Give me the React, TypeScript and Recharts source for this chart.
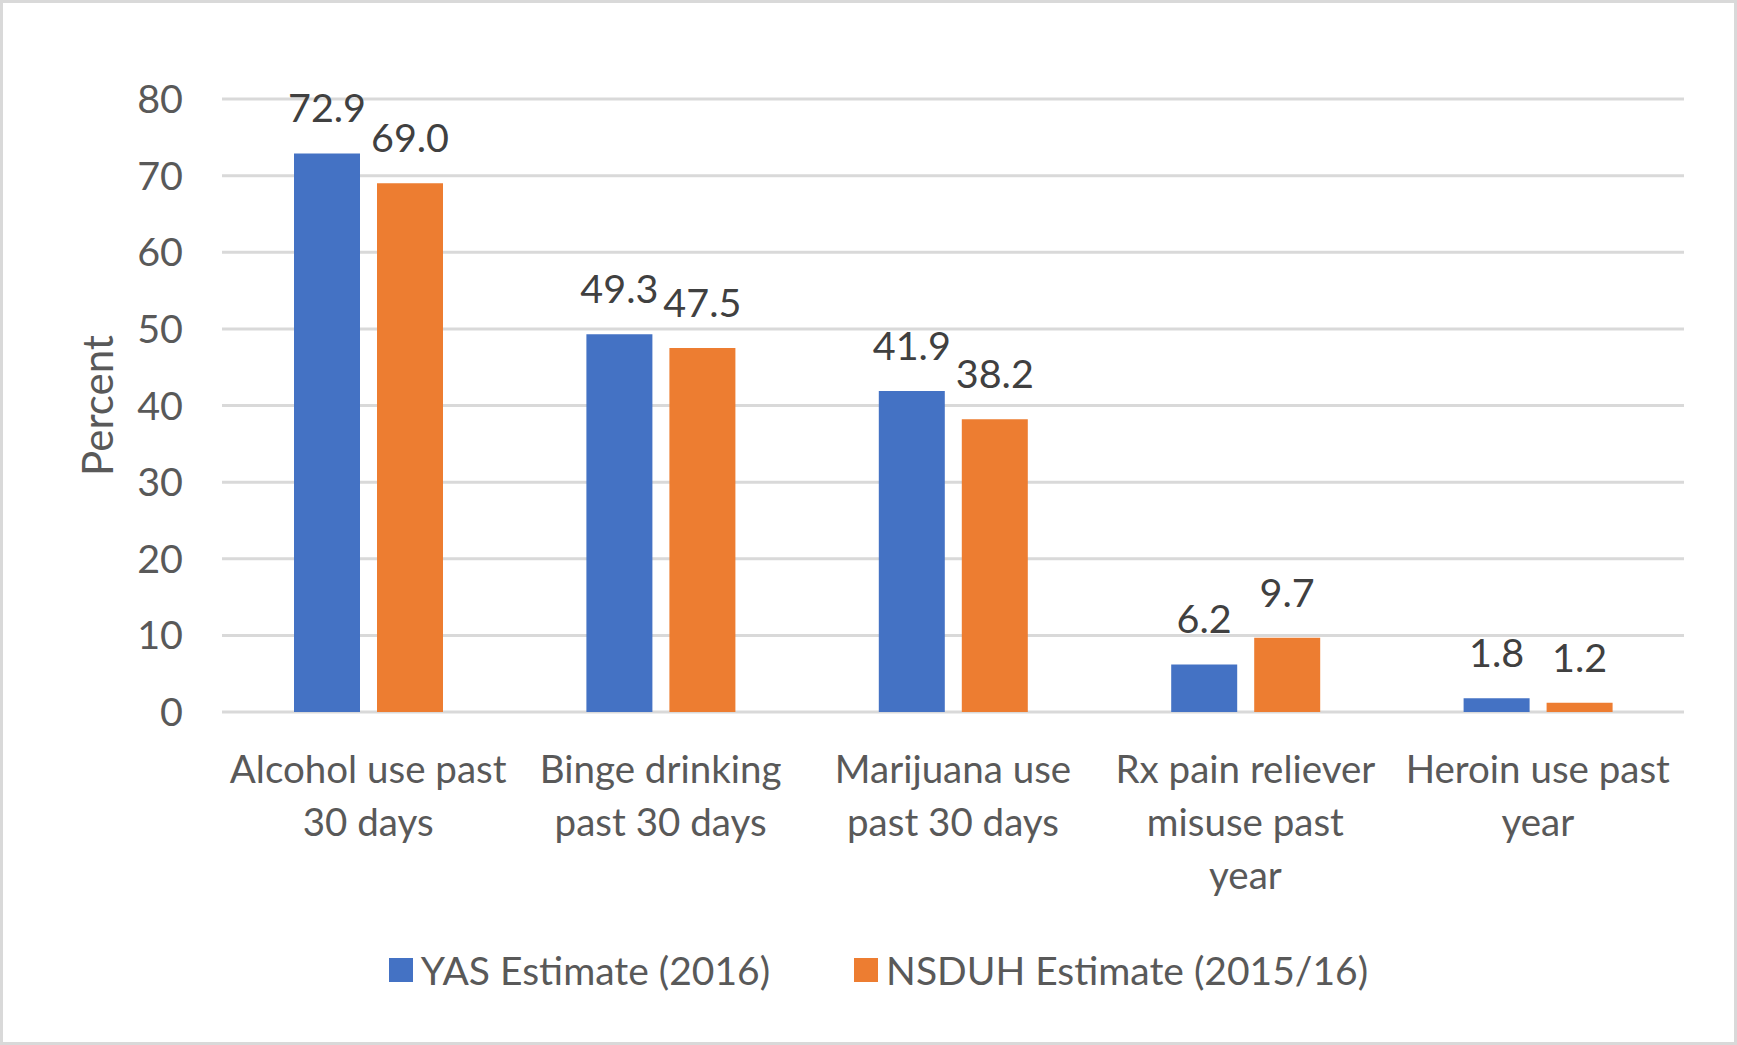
import React from 'react';
import {
  BarChart,
  Bar,
  XAxis,
  YAxis,
  CartesianGrid,
  Legend,
  LabelList,
} from 'recharts';

const categories = [
  'Alcohol use past 30 days',
  'Binge drinking past 30 days',
  'Marijuana use past 30 days',
  'Rx pain reliever misuse past year',
  'Heroin use past year',
];

// how the category names break over lines under the axis
const categoryLines = [
  ['Alcohol use past', '30 days'],
  ['Binge drinking', 'past 30 days'],
  ['Marijuana use', 'past 30 days'],
  ['Rx pain reliever', 'misuse past', 'year'],
  ['Heroin use past', 'year'],
];

const yasValues = [72.9, 49.3, 41.9, 6.2, 1.8];
const nsduhValues = [69.0, 47.5, 38.2, 9.7, 1.2];

const yTicks = [0, 10, 20, 30, 40, 50, 60, 70, 80];

const seriesNames = ['YAS Estimate (2016)', 'NSDUH Estimate (2015/16)'];
const seriesColors = ['#4472C4', '#ED7D31'];

const FONT = 'Lato, "Open Sans", sans-serif';

const chartData = categories.map((name, i) => ({
  name,
  yas: yasValues[i],
  nsduh: nsduhValues[i],
}));

const CategoryTick = ({ x, y, index }: any) => {
  const lines = categoryLines[index] || [];
  return (
    <g>
      {lines.map((line, i) => (
        <text
          key={i}
          x={x}
          y={y + 63 + i * 53}
          textAnchor="middle"
          fill="#595959"
          fontSize={38.5}
          fontFamily={FONT}
        >
          {line}
        </text>
      ))}
    </g>
  );
};

const LegendContent = () => (
  <div
    style={{
      display: 'flex',
      justifyContent: 'center',
      alignItems: 'center',
      height: 60,
      paddingLeft: 20,
      fontFamily: FONT,
      fontSize: 39,
      color: '#595959',
    }}
  >
    {seriesNames.map((name, i) => (
      <div
        key={name}
        style={{ display: 'flex', alignItems: 'center', marginRight: i === 0 ? 84 : 0 }}
      >
        <span
          style={{
            display: 'inline-block',
            width: 24,
            height: 24,
            background: seriesColors[i],
            marginRight: 8,
          }}
        />
        <span>{name}</span>
      </div>
    ))}
  </div>
);

export default function App() {
  return (
    <div
      style={{
        width: 1737,
        height: 1045,
        boxSizing: 'border-box',
        border: '3px solid #d9d9d9',
        background: '#fff',
        position: 'relative',
        overflow: 'hidden',
      }}
    >
      <style>{'body{margin:0}'}</style>
      <div style={{ position: 'absolute', left: -3, top: -3 }}>
        <BarChart
          width={1737}
          height={1045}
          data={chartData}
          margin={{ top: 99, right: 53, bottom: 45, left: 102 }}
          barSize={66}
          barGap={17}
        >
          <CartesianGrid vertical={false} stroke="#d9d9d9" strokeWidth={3} />
          <XAxis
            dataKey="name"
            axisLine={false}
            tickLine={false}
            interval={0}
            height={228}
            tick={<CategoryTick />}
          />
          <YAxis
            domain={[0, 80]}
            ticks={yTicks}
            width={120}
            axisLine={false}
            tickLine={false}
            tickSize={6}
            tickMargin={33}
            tick={{ fill: '#595959', fontSize: 39.5, fontFamily: FONT }}
            label={{
              content: ({ viewBox }: any) => (
                <text
                  x={viewBox.x - 5}
                  y={viewBox.y + viewBox.height / 2}
                  transform={`rotate(-90, ${viewBox.x - 5}, ${viewBox.y + viewBox.height / 2})`}
                  textAnchor="middle"
                  dominantBaseline="central"
                  fill="#595959"
                  fontSize={42}
                  fontFamily={FONT}
                >
                  Percent
                </text>
              ),
            }}
          />
          <Legend
            verticalAlign="bottom"
            content={<LegendContent />}
            wrapperStyle={{ left: 0, width: 1737 }}
          />
          <Bar dataKey="yas" name={seriesNames[0]} fill={seriesColors[0]} isAnimationActive={false}>
            <LabelList
              dataKey="yas"
              position="top"
              offset={31}
              formatter={(v: any) => Number(v).toFixed(1)}
              fill="#404040"
              fontSize={39.5}
              fontFamily={FONT}
            />
          </Bar>
          <Bar dataKey="nsduh" name={seriesNames[1]} fill={seriesColors[1]} isAnimationActive={false}>
            <LabelList
              dataKey="nsduh"
              position="top"
              offset={31}
              formatter={(v: any) => Number(v).toFixed(1)}
              fill="#404040"
              fontSize={39.5}
              fontFamily={FONT}
            />
          </Bar>
        </BarChart>
      </div>
    </div>
  );
}
